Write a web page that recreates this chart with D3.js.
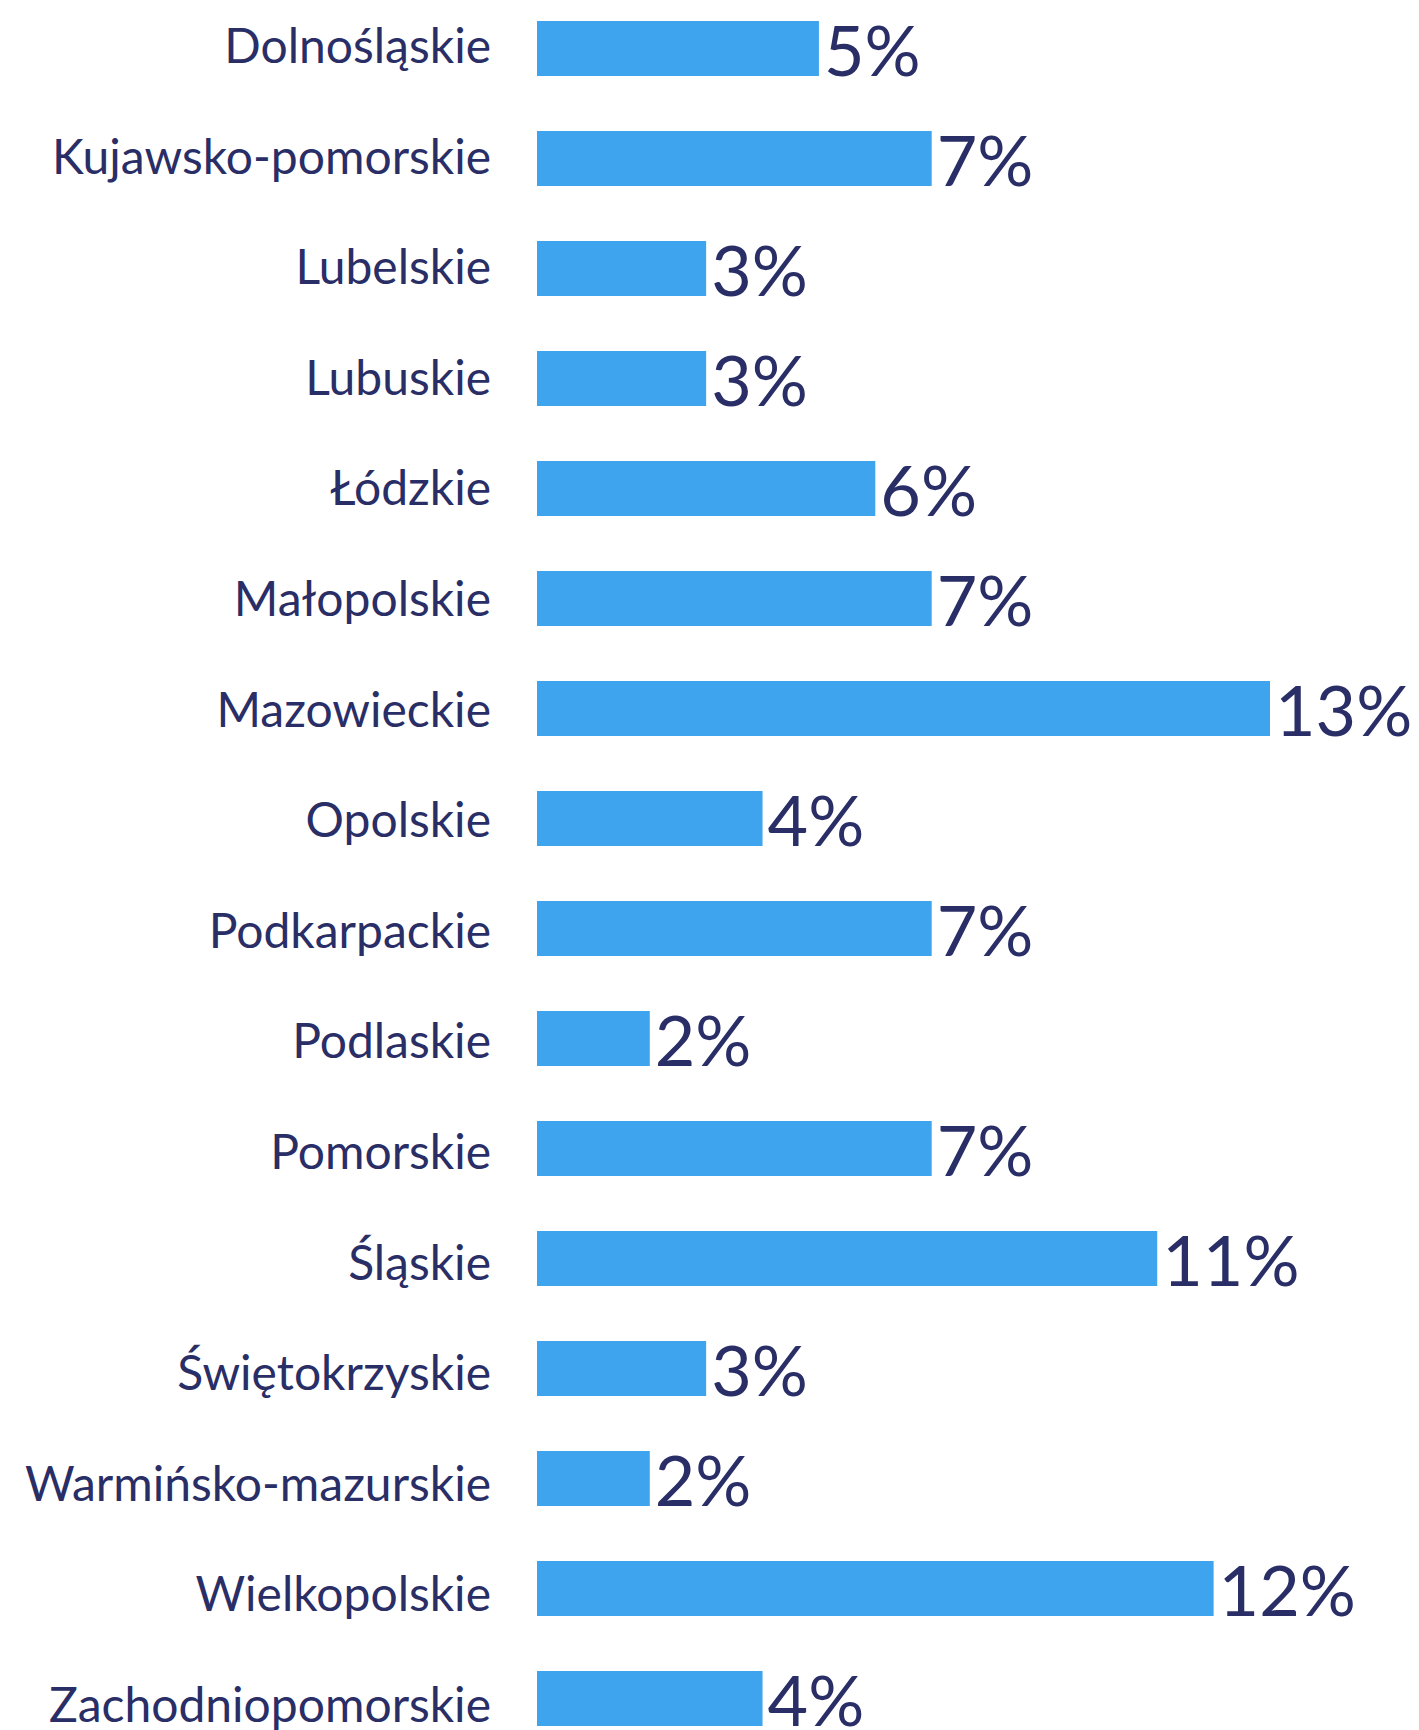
<!DOCTYPE html>
<html><head><meta charset="utf-8">
<script src="https://cdn.jsdelivr.net/npm/d3@7"></script>
<style>html,body{margin:0;padding:0;background:#fff;}</style>
</head><body>
<svg id="c" width="1419" height="1730"></svg>
<script>
const categories = ["Dolnośląskie","Kujawsko-pomorskie","Lubelskie","Lubuskie","Łódzkie","Małopolskie","Mazowieckie","Opolskie","Podkarpackie","Podlaskie","Pomorskie","Śląskie","Świętokrzyskie","Warmińsko-mazurskie","Wielkopolskie","Zachodniopomorskie"];
const values = [5,7,3,3,6,7,13,4,7,2,7,11,3,2,12,4];
const valueLabels = ["5%","7%","3%","3%","6%","7%","13%","4%","7%","2%","7%","11%","3%","2%","12%","4%"];

const svg = d3.select("#c");
const x0 = 537, x13 = 1270;
const x = d3.scaleLinear().domain([0,13]).range([x0,x13]);
const y = d3.scaleBand().domain(categories).range([-6.5,-6.5+16*110]).paddingInner(0.5).paddingOuter(0.25);
const yLabel = d3.scalePoint().domain(categories).range([63, 63+15*110.6]);
const navy = "#2a2e66", blue = "#3fa4ee";
const data = categories.map((c,i)=>({c, v:values[i], l:valueLabels[i]}));

svg.selectAll("rect.bar").data(data).join("rect")
  .attr("x", x(0)).attr("y", d=>y(d.c))
  .attr("width", d=>x(d.v)-x(0)).attr("height", y.bandwidth())
  .attr("fill", blue);

svg.selectAll("text.cat").data(data).join("text")
  .attr("x", 491).attr("y", d=>yLabel(d.c))
  .attr("text-anchor","end")
  .attr("font-family","Lato, sans-serif").attr("font-size",48)
  .attr("fill", navy).text(d=>d.c);

svg.selectAll("text.val").data(data).join("text")
  .attr("x", d=>x(d.v)+5).attr("y", d=>y(d.c)+y.bandwidth())
  .attr("font-family","Lato, sans-serif").attr("font-size",70)
  .attr("fill", navy).text(d=>d.l);
</script>
</body></html>
